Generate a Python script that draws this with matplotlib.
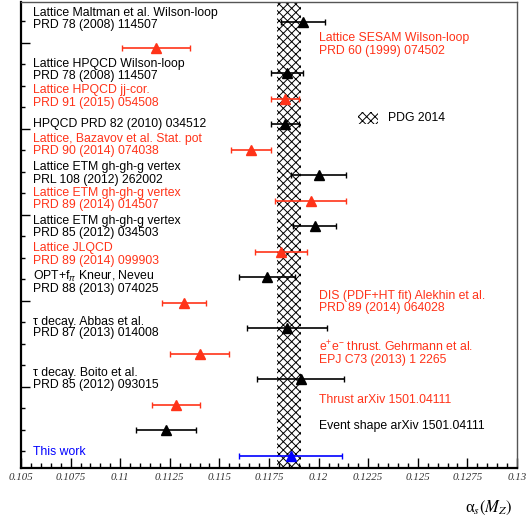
import matplotlib
matplotlib.use('Agg')
import matplotlib.pyplot as plt
import numpy as np
from matplotlib.patches import Rectangle

# alpha_s(M_Z) determinations, listed top to bottom
alpha_vals = [0.1192, 0.1118, 0.1184, 0.1183, 0.1183, 0.1166, 0.1200, 0.1196, 0.1198,
              0.1181, 0.1174, 0.1132, 0.1184, 0.1140, 0.1191, 0.1128, 0.1123, 0.1186]
alpha_errs = [0.0011, 0.0017, 0.0008, 0.0007, 0.0007, 0.0010, 0.0014, 0.0018, 0.0011,
              0.0013, 0.0014, 0.0011, 0.0020, 0.0015, 0.0022, 0.0012, 0.0015, 0.0026]
point_kind = ['k', 'r', 'k', 'r', 'k', 'r', 'k', 'r', 'k',
              'r', 'k', 'r', 'k', 'r', 'k', 'r', 'k', 'b']

# PDG 2014 world average band
pdg_val = 0.1185
pdg_err = 0.0006

RED = '#ff3319'
BLUE = '#0000ff'
colour_map = {'k': 'black', 'r': RED, 'b': BLUE}

# labels: (text, colour, pixel row)
left_labels = [
    ("Lattice Maltman et al. Wilson-loop", 'k', 13),
    ("PRD 78 (2008) 114507", 'k', 25),
    ("Lattice HPQCD Wilson-loop", 'k', 64),
    ("PRD 78 (2008) 114507", 'k', 76),
    ("Lattice HPQCD jj-cor.", 'r', 90),
    ("PRD 91 (2015) 054508", 'r', 103),
    ("HPQCD PRD 82 (2010) 034512", 'k', 124),
    ("Lattice, Bazavov et al. Stat. pot", 'r', 139),
    ("PRD 90 (2014) 074038", 'r', 151),
    ("Lattice ETM gh-gh-g vertex", 'k', 167),
    ("PRL 108 (2012) 262002", 'k', 180),
    ("Lattice ETM gh-gh-g vertex", 'r', 193),
    ("PRD 89 (2014) 014507", 'r', 205),
    ("Lattice ETM gh-gh-g vertex", 'k', 221),
    ("PRD 85 (2012) 034503", 'k', 233),
    ("Lattice JLQCD", 'r', 248),
    ("PRD 89 (2014) 099903", 'r', 261),
    (r"OPT+f$_{\pi}$ Kneur, Neveu", 'k', 276),
    ("PRD 88 (2013) 074025", 'k', 289),
    ("τ decay. Abbas et al.", 'k', 322),
    ("PRD 87 (2013) 014008", 'k', 333),
    ("τ decay. Boito et al.", 'k', 373),
    ("PRD 85 (2012) 093015", 'k', 385),
    ("This work", 'b', 452),
]
right_labels = [
    ("Lattice SESAM Wilson-loop", 'r', 38),
    ("PRD 60 (1999) 074502", 'r', 51),
    ("DIS (PDF+HT fit) Alekhin et al.", 'r', 296),
    ("PRD 89 (2014) 064028", 'r', 308),
    (r"e$^{+}$e$^{-}$ thrust. Gehrmann et al.", 'r', 347),
    ("EPJ C73 (2013) 1 2265", 'r', 360),
    ("Thrust arXiv 1501.04111", 'r', 400),
    ("Event shape arXiv 1501.04111", 'k', 426),
]

plt.rcParams['mathtext.fontset'] = 'custom'
plt.rcParams['mathtext.rm'] = 'Liberation Sans'
plt.rcParams['mathtext.it'] = 'Liberation Sans:italic'
plt.rcParams['hatch.linewidth'] = 0.7

FS = 8.8


def py(p):
    """pixel row -> data y (row index)"""
    return (p - 22) / 25.5


fig = plt.figure(figsize=(5.26, 5.19), dpi=100)
ax = fig.add_axes([21 / 526, 51.5 / 519, 496 / 526, 465.5 / 519])

rows = np.arange(len(alpha_vals))

# PDG band
ax.axvspan(pdg_val - pdg_err, pdg_val + pdg_err, facecolor='white',
           edgecolor='black', hatch='xxxx', linewidth=0, zorder=1)

for i in rows:
    c = colour_map[point_kind[i]]
    ax.errorbar(alpha_vals[i], i, xerr=alpha_errs[i], fmt='^', color=c,
                ms=7.5, elinewidth=1.2, capsize=2.3, capthick=1.0, zorder=3)

# PDG legend entry
ax.add_patch(Rectangle((0.1220, py(112)), 0.0010, py(124) - py(112),
                       facecolor='white', edgecolor='black', hatch='xxxx',
                       linewidth=0, zorder=2))
ax.text(0.1235, py(117.5), "PDG 2014", fontsize=FS, family='Liberation Sans',
        va='center', ha='left')

for txt, c, p in left_labels:
    ax.text(0.1056, py(p), txt, color=colour_map[c], fontsize=FS,
            family='Liberation Sans', va='center', ha='left')
for txt, c, p in right_labels:
    ax.text(0.1200, py(p), txt, color=colour_map[c], fontsize=FS,
            family='Liberation Sans', va='center', ha='left')

ax.set_xlim(0.105, 0.13)
ax.set_ylim(py(467.5), py(2))

# x ticks
xt = np.arange(0.105, 0.13001, 0.0025)
ax.set_xticks(xt)
ax.set_xticklabels(['%g' % round(v, 4) for v in xt])
ax.set_xticks(np.arange(0.105, 0.13001, 0.0005), minor=True)
for lab in ax.get_xticklabels():
    lab.set_family('Liberation Serif')
    lab.set_style('italic')
    lab.set_fontsize(7.8)
    lab.set_color('#333333')

# y ticks (no labels)
ytick_px = 21 + 21.5 * np.arange(21)
major_px = ytick_px[1::4]
ax.set_yticks([py(p) for p in major_px])
ax.set_yticks([py(p) for p in ytick_px], minor=True)
ax.set_yticklabels([])

ax.tick_params(axis='both', which='both', direction='in', top=False, right=False)
ax.tick_params(axis='x', which='major', length=7, width=1.0, pad=4)
ax.tick_params(axis='x', which='minor', length=3.5, width=1.0)
ax.tick_params(axis='y', which='major', length=6.5, width=1.0)
ax.tick_params(axis='y', which='minor', length=3, width=1.0)

ax.spines['left'].set_linewidth(1.6)
ax.spines['bottom'].set_linewidth(1.6)
ax.spines['top'].set_linewidth(1.0)
ax.spines['right'].set_linewidth(1.0)
ax.spines['top'].set_color('#555555')
ax.spines['right'].set_color('#555555')

fig.text(513 / 526, 1 - 508 / 519, r'α$_{s}(M_{Z})$', fontsize=12,
         family='Liberation Serif', math_fontfamily='stix',
         ha='right', va='center')

fig.savefig('out.png', dpi=100)
